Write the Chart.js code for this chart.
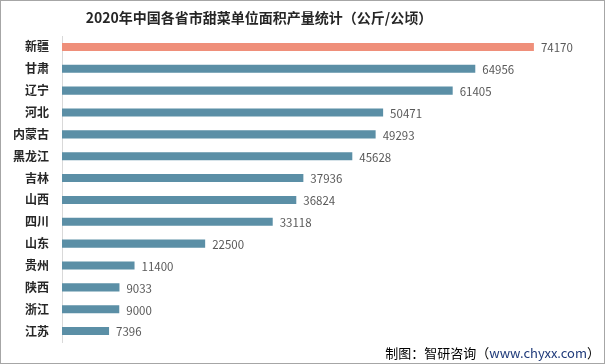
<!DOCTYPE html>
<html>
<head>
<meta charset="utf-8">
<script src="https://cdn.jsdelivr.net/npm/chart.js@4"></script>
<style>
html,body{margin:0;padding:0;background:#fff;}
#wrap{position:relative;width:605px;height:364px;box-sizing:border-box;border:1px solid #a6a6a6;overflow:hidden;}
canvas{position:absolute;left:-1px;top:-1px;}
</style>
</head>
<body>
<div id="wrap"><canvas id="c" width="605" height="364"></canvas></div>
<script>
const categories = ["新疆","甘肃","辽宁","河北","内蒙古","黑龙江","吉林","山西","四川","山东","贵州","陕西","浙江","江苏"];
const values = [74170,64956,61405,50471,49293,45628,37936,36824,33118,22500,11400,9033,9000,7396];
const titleText = "2020年中国各省市甜菜单位面积产量统计（公斤/公顷）";
const sourcePrefix = "制图：智研咨询（";
const sourceUrl = "www.chyxx.com";
const sourceSuffix = "）";

const FONT = "'Noto Sans CJK SC','Microsoft YaHei',sans-serif";
const barColors = values.map((v,i)=> i===0 ? "#EF8F7A" : "#5B8FA6");

const overlay = {
  id: "overlay",
  afterDatasetsDraw(chart){
    const ctx = chart.ctx;
    const meta = chart.getDatasetMeta(0);
    ctx.save();
    ctx.font = "11.5px " + FONT;
    ctx.fillStyle = "#595959";
    ctx.textAlign = "left";
    ctx.textBaseline = "middle";
    meta.data.forEach((bar,i)=>{
      ctx.fillText(String(values[i]), bar.x + 7, bar.y + 1);
    });
    ctx.restore();
  },
  afterDraw(chart){
    const ctx = chart.ctx;
    ctx.save();
    ctx.font = "bold 14px " + FONT;
    ctx.fillStyle = "#262626";
    ctx.textAlign = "center";
    ctx.textBaseline = "middle";
    ctx.fillText(titleText, 259, 18);
    // source
    ctx.font = "13px " + FONT;
    ctx.textBaseline = "middle";
    ctx.textAlign = "left";
    const w1 = ctx.measureText(sourcePrefix).width;
    const w2 = ctx.measureText(sourceUrl).width;
    const w3 = ctx.measureText(sourceSuffix).width;
    let x = 600 - (w1 + w2 + w3);
    const y = 353;
    ctx.fillStyle = "#000000";
    ctx.fillText(sourcePrefix, x, y);
    ctx.fillStyle = "#1F3A7A";
    ctx.fillText(sourceUrl, x + w1, y);
    ctx.fillStyle = "#000000";
    ctx.fillText(sourceSuffix, x + w1 + w2, y);
    ctx.restore();
  }
};

new Chart(document.getElementById("c"), {
  type: "bar",
  data: {
    labels: categories,
    datasets: [{
      data: values,
      backgroundColor: barColors,
      borderWidth: 0,
      categoryPercentage: 1,
      barPercentage: 0.37
    }]
  },
  options: {
    indexAxis: "y",
    responsive: false,
    animation: false,
    devicePixelRatio: 1,
    layout: { padding: { left: 0, right: 34, top: 36, bottom: 22 } },
    plugins: { legend: { display: false }, tooltip: { enabled: false }, title: { display: false } },
    scales: {
      x: { display: false, min: 0, max: 80000 },
      y: {
        afterFit(scale){ scale.width = 62; },
        grid: { display: false, drawTicks: false },
        border: { display: true, color: "#d9d9d9", width: 1 },
        ticks: { color: "#262626", font: { family: FONT, size: 12, weight: "bold" }, padding: 13 }
      }
    }
  },
  plugins: [overlay]
});
</script>
</body>
</html>
